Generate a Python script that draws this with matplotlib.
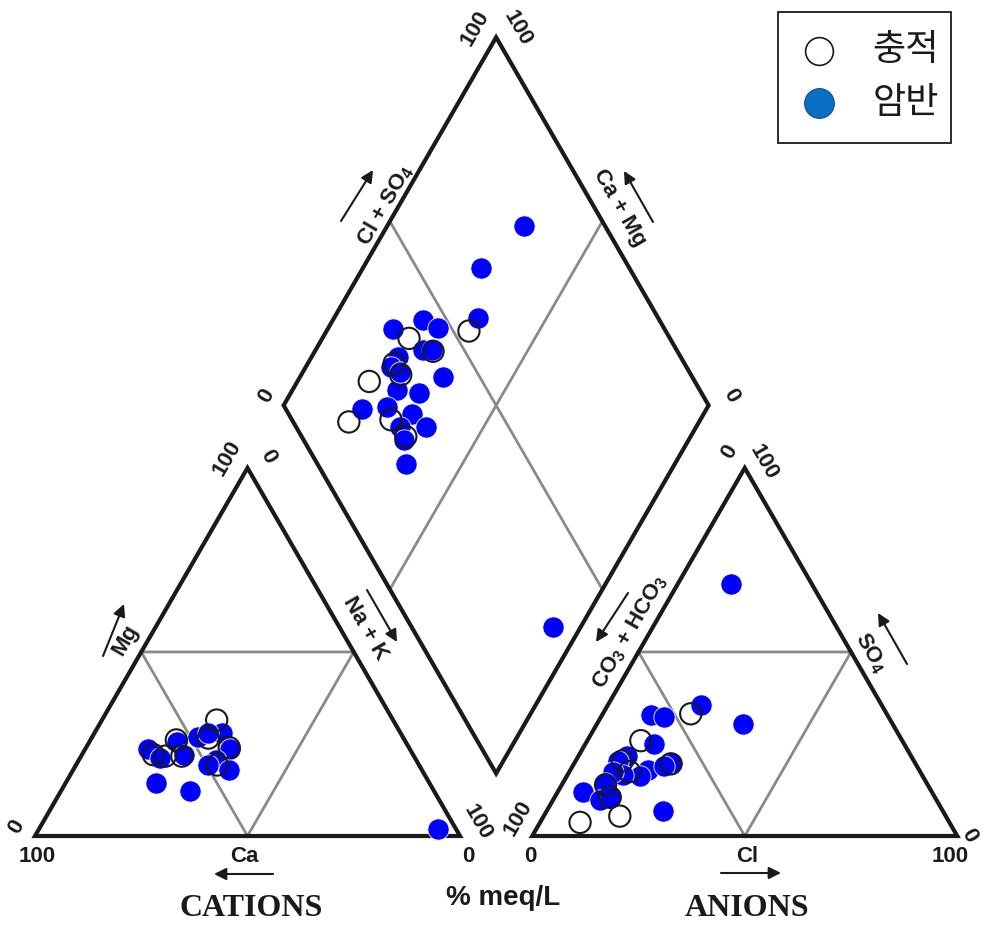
import numpy as np
import matplotlib
matplotlib.use("Agg")
import matplotlib.pyplot as plt
from matplotlib.patches import Polygon, Rectangle

plt.rcParams['font.family'] = ['Liberation Sans', 'DejaVu Sans']
plt.rcParams['mathtext.default'] = 'regular'

# ---------------- data (% meq/L) ----------------
# cation triangle: Ca and Mg (Na + K is the remainder)
cat_alluvial_ca = [41.5, 45.9, 53.7, 61.1, 58.5, 54.6, 42.3, 47.5]
cat_alluvial_mg = [31.5, 26.6, 26.1, 22.1, 21.7, 21.7, 24.0, 19.3]
cat_bedrock_ca = [42.1, 48.1, 45.3, 53.9, 61.5, 60.0, 53.8, 42.4, 47.1, 49.7,
                  45.5, 64.3, 57.5, 4.2]
cat_bedrock_mg = [28.0, 27.0, 28.0, 25.6, 23.6, 21.2, 22.1, 23.6, 20.7, 19.3,
                  17.9, 14.5, 12.2, 1.8]

# anion triangle: Cl and SO4 (CO3 + HCO3 is the remainder)
an_alluvial_cl = [20.7, 12.6, 11.0, 14.1, 22.8, 10.3, 13.1, 17.9, 9.4]
an_alluvial_so4 = [33.2, 25.9, 20.4, 17.5, 19.6, 13.9, 10.5, 5.4, 3.7]
an_bedrock_cl = [12.5, 34.5, 22.0, 11.5, 14.9, 16.2, 11.5, 10.0, 18.4, 17.2,
                 22.9, 21.5, 13.1, 10.3, 10.0, 5.9, 10.9, 13.0, 27.3]
an_bedrock_so4 = [68.5, 30.4, 35.6, 32.9, 32.3, 25.1, 21.8, 20.4, 17.8, 16.3,
                  19.9, 19.0, 16.6, 17.4, 14.3, 12.0, 9.9, 10.6, 6.7]

# diamond: Cl + SO4 and Ca + Mg
dia_alluvial_clso4 = [38.6, 42.5, 31.7, 31.7, 23.4, 13.1, 23.3, 24.5, 53.7]
dia_alluvial_camg = [79.6, 72.2, 79.7, 76.6, 83.1, 82.4, 72.8, 67.0, 66.5]
dia_bedrock_clso4 = [80.9, 65.1, 57.6, 36.0, 44.3, 46.9, 40.4, 42.4, 33.6, 30.5,
                     28.7, 33.6, 41.2, 17.9, 24.0, 28.9, 24.5, 30.5, 23.6, 20.9,
                     33.3, 31.9]
dia_bedrock_camg = [67.8, 72.2, 66.1, 84.7, 78.9, 74.2, 74.7, 72.6, 79.6, 80.0,
                    75.5, 69.7, 66.4, 81.1, 75.5, 68.7, 69.7, 63.5, 67.0, 63.3,
                    6.5, 77.2]

group_labels = ['충적', '암반']

# ---------------- geometry ----------------
GAP = 17.0
H = np.sqrt(3) / 2
SCALE = 4.25          # canvas pixels per percent unit
X0, Y0 = 35.0, 836.0  # canvas position of the cation triangle's left corner


def P(x, y):
    """Canvas pixel position -> axes data coordinates."""
    return ((x - X0) / SCALE, (Y0 - y) / SCALE)


def cation_xy(ca, mg):
    ca, mg = np.asarray(ca, float), np.asarray(mg, float)
    na = 100 - ca - mg
    return na + mg / 2, mg * H


def anion_xy(cl, so4):
    cl, so4 = np.asarray(cl, float), np.asarray(so4, float)
    return 100 + GAP + cl + so4 / 2, so4 * H


def diamond_xy(clso4, camg):
    p, q = np.asarray(clso4, float), np.asarray(camg, float)
    bx, by = 100 + GAP / 2, GAP * H
    return bx + 0.5 * (p - q), by + H * (p + q)


fig = plt.figure(figsize=(9.84, 9.27), dpi=100)
ax = fig.add_axes([0, 0, 1, 1])
ax.set_xlim(-X0 / SCALE, (984 - X0) / SCALE)
ax.set_ylim((Y0 - 927) / SCALE, Y0 / SCALE)
ax.axis('off')

BLACK_LW = 3.0
GREY_LW = 2.0
GREY = '#8a8a8a'

# triangles
left_tri = [(0, 0), (100, 0), (50, 100 * H)]
right_tri = [(100 + GAP, 0), (200 + GAP, 0), (150 + GAP, 100 * H)]
for tri in (left_tri, right_tri):
    ax.add_patch(Polygon(tri, closed=True, fill=False, ec='#1a1a1a',
                         lw=BLACK_LW, joinstyle='miter', zorder=2))
    (ax_, ay_), (bx_, by_), (cx_, cy_) = tri
    mids = [((ax_ + bx_) / 2, (ay_ + by_) / 2),
            ((bx_ + cx_) / 2, (by_ + cy_) / 2),
            ((ax_ + cx_) / 2, (ay_ + cy_) / 2)]
    ax.add_patch(Polygon(mids, closed=True, fill=False, ec=GREY, lw=GREY_LW,
                         zorder=1))

# diamond
dB = diamond_xy(0, 0)
dL = diamond_xy(0, 100)
dT = diamond_xy(100, 100)
dR = diamond_xy(100, 0)
ax.add_patch(Polygon([dB, dL, dT, dR], closed=True, fill=False, ec='#1a1a1a',
                     lw=BLACK_LW, joinstyle='miter', zorder=2))
for a, b in (((50, 0), (50, 100)), ((0, 50), (100, 50))):
    xa, ya = diamond_xy(*a)
    xb, yb = diamond_xy(*b)
    ax.plot([xa, xb], [ya, yb], color=GREY, lw=GREY_LW, zorder=1)

# ---------------- samples ----------------
S = 235
blue_kw = dict(s=S, facecolor='#0000ff', edgecolor='white', linewidth=0.6,
               zorder=4)
open_kw = dict(s=S, facecolor='none', edgecolor='#1a1a1a', linewidth=1.5,
               zorder=5)

ax.scatter(*cation_xy(cat_bedrock_ca, cat_bedrock_mg), **blue_kw)
ax.scatter(*anion_xy(an_bedrock_cl, an_bedrock_so4), **blue_kw)
ax.scatter(*diamond_xy(dia_bedrock_clso4, dia_bedrock_camg), **blue_kw)

ax.scatter(*cation_xy(cat_alluvial_ca, cat_alluvial_mg), **open_kw)
ax.scatter(*anion_xy(an_alluvial_cl, an_alluvial_so4), **open_kw)
ax.scatter(*diamond_xy(dia_alluvial_clso4, dia_alluvial_camg), **open_kw)

# ---------------- labels ----------------
NUM_FS = 16
LAB_FS = 16


def label(txt, x, y, rot=0, fs=NUM_FS, **kw):
    ax.text(*P(x, y), txt, rotation=rot, fontsize=fs, fontweight='bold',
            ha='center', va='center', rotation_mode='anchor', color='#1a1a1a',
            **kw)


def arrow(x1, y1, x2, y2):
    ax.annotate('', xy=P(x2, y2), xytext=P(x1, y1),
                arrowprops=dict(arrowstyle='-|>', lw=1.5, color='#1a1a1a',
                                mutation_scale=18, shrinkA=0, shrinkB=0))


# scale numbers
label('100', 475, 28, 60)
label('100', 518, 28, -60)
label('0', 266, 396, 60)
label('0', 731, 396, -60)
label('100', 227, 458, 60)
label('0', 268, 457, -60)
label('0', 16, 827, 60)
label('100', 37, 857)
label('0', 468, 857)
label('100', 478, 822, -60)
label('0', 729, 452, 60)
label('100', 764, 462, -60)
label('100', 518, 818, 60)
label('0', 969, 836, -60)
label('0', 530, 857)
label('100', 950, 857)

# axis names
label('Ca', 244, 856, 0, LAB_FS)
arrow(273, 874, 214, 874)
label('Mg', 125, 640, 60, LAB_FS)
arrow(103, 656, 124, 604)
label('Na + K', 365, 628, -60, LAB_FS)
arrow(367, 590, 397, 642)
label('Cl', 747, 856, 0, LAB_FS)
arrow(721, 873, 781, 873)
label('CO$_3$ + HCO$_3$', 630, 632, 60, LAB_FS)
arrow(628, 593, 596, 642)
label('SO$_4$', 871, 653, -60, LAB_FS)
arrow(907, 664, 878, 613)
label('Cl + SO$_4$', 385, 205, 60, LAB_FS)
arrow(341, 221, 373, 170)
label('Ca + Mg', 619, 208, -60, LAB_FS)
arrow(653, 222, 624, 171)

ax.text(*P(251, 909), 'CATIONS', fontsize=23, fontweight='bold',
        family=['Liberation Serif'], ha='center', va='center', color='#1a1a1a')
ax.text(*P(747, 909), 'ANIONS', fontsize=23, fontweight='bold',
        family=['Liberation Serif'], ha='center', va='center', color='#1a1a1a')
label('% meq/L', 503, 898, 0, 20)

# ---------------- legend ----------------
lx0, ly0 = P(778, 143)
lx1, ly1 = P(951, 12)
ax.add_patch(Rectangle((lx0, ly0), lx1 - lx0, ly1 - ly0, fill=True,
                       fc='white', ec='#1a1a1a', lw=1.3, zorder=6))
ax.scatter(*P(819, 51), s=400, facecolor='white', edgecolor='#1a1a1a',
           linewidth=1.2, zorder=7)
ax.scatter(*P(819, 103), s=460, facecolor='#0a6fc2', edgecolor='#1d4f86',
           linewidth=0.8, zorder=7)
for txt, yy in zip(group_labels, (50, 103)):
    ax.text(*P(906, yy), txt, fontsize=26, family=['Noto Sans CJK KR'],
            ha='center', va='center', color='#1a1a1a', zorder=7)

fig.savefig('out.png', dpi=100)
